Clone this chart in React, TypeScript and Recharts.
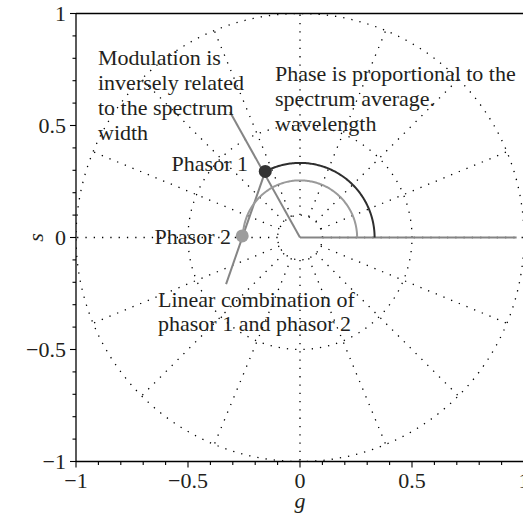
import React from 'react';
import { ComposedChart, Scatter, XAxis, YAxis, ReferenceLine } from 'recharts';

// axis ticks (every 0.1, labels on the halves)
const axisTicks = [-1, -0.9, -0.8, -0.7, -0.6, -0.5, -0.4, -0.3, -0.2, -0.1, 0, 0.1, 0.2, 0.3, 0.4, 0.5, 0.6, 0.7, 0.8, 0.9, 1];
const majorTicks = [-1, -0.5, 0, 0.5, 1];

// dotted polar grid
const gridRadii = [0.1, 0.5, 1];
const spokeAngles = [0, 22.5, 45, 67.5, 90, 112.5, 135, 157.5, 180, 202.5, 225, 247.5, 270, 292.5, 315, 337.5];
const spokeInner = 0.1;

// phasors and construction lines (g, s)
const phasor1 = [{ x: -0.155, y: 0.295 }];
const phasor2 = [{ x: -0.258, y: 0.007 }];
const modulationLine = [{ x: 0, y: 0 }, { x: -0.3125, y: 0.56 }];
const combinationLine = [{ x: -0.33, y: -0.208 }, { x: -0.155, y: 0.295 }];
const phaseLine = [{ x: 0, y: 0 }, { x: 0.967, y: 0 }];
const phase1Arc = { r: 0.333, from: 0, to: 117.7 };
const phase2Arc = { r: 0.255, from: 0, to: 178.4 };

const modulationText = ['Modulation is', 'inversely related', 'to the spectrum', 'width'];
const phaseText = ['Phase is proportional to the', 'spectrum average.', 'wavelength'];
const combinationText = ['Linear combination of', 'phasor 1 and phasor 2'];

const FONT = '"Liberation Serif", "Times New Roman", serif';
const TXT = '#231f20';

const arcPoints = (r: number, from: number, to: number) => {
  const n = Math.max(8, Math.round(Math.abs(to - from)));
  const pts = [];
  for (let i = 0; i <= n; i++) {
    const a = ((from + ((to - from) * i) / n) * Math.PI) / 180;
    pts.push({ x: r * Math.cos(a), y: r * Math.sin(a) });
  }
  return pts;
};

const spokePoints = (deg: number) => {
  const a = (deg * Math.PI) / 180;
  return [
    { x: spokeInner * Math.cos(a), y: spokeInner * Math.sin(a) },
    { x: Math.cos(a), y: Math.sin(a) },
  ];
};

const isMajor = (v: number) => majorTicks.some((m) => Math.abs(m - v) < 1e-6);
const fmt = (v: number) => (v < 0 ? '\u2212' + Math.abs(v) : String(v));

const XTick = (props: any) => {
  const { x, y, payload } = props;
  const major = isMajor(payload.value);
  return (
    <g>
      <line x1={x} y1={y} x2={x} y2={y + (major ? 6 : 3.5)} stroke="#000" strokeWidth={1.1} />
      {major && (
        <text x={x} y={y + 26} textAnchor="middle" fontFamily={FONT} fontSize={22} fill={TXT}>
          {fmt(payload.value)}
        </text>
      )}
    </g>
  );
};

const YTick = (props: any) => {
  const { x, y, payload } = props;
  const major = isMajor(payload.value);
  return (
    <g>
      <line x1={x} y1={y} x2={x - (major ? 6 : 3.5)} y2={y} stroke="#000" strokeWidth={1.1} />
      {major && (
        <text x={x - 10} y={y} dy="0.35em" textAnchor="end" fontFamily={FONT} fontSize={22} fill={TXT}>
          {fmt(payload.value)}
        </text>
      )}
    </g>
  );
};

const noShape = () => <g />;
const dotted = { stroke: '#000', strokeWidth: 1.3, strokeDasharray: '1.3 7' };

const Dot = (color: string) => (p: any) => <circle cx={p.cx} cy={p.cy} r={6.5} fill={color} />;

const PhasorPlot = () => {
  return (
    <div style={{ position: 'absolute', left: 0, top: 0, width: 523, height: 516, background: '#fff' }}>
      <ComposedChart width={523} height={516} margin={{ top: 13.5, right: -1, bottom: 14.5, left: 16 }}>
        <XAxis
          type="number"
          dataKey="x"
          domain={[-1, 1]}
          ticks={axisTicks}
          interval={0}
          tickSize={0}
          tickMargin={0}
          tick={XTick}
          tickLine={false}
          height={40}
          axisLine={{ stroke: '#000', strokeWidth: 1.3 }}
          allowDataOverflow
        />
        <YAxis
          type="number"
          dataKey="y"
          domain={[-1, 1]}
          ticks={axisTicks}
          interval={0}
          tickSize={0}
          tickMargin={0}
          tick={YTick}
          tickLine={false}
          width={60}
          axisLine={{ stroke: '#000', strokeWidth: 1.3 }}
          allowDataOverflow
        />
        <ReferenceLine y={1} stroke="#000" strokeWidth={1.3} />

        {gridRadii.map((r) => (
          <Scatter key={'c' + r} data={arcPoints(r, 0, 360)} line={dotted} lineType="joint" shape={noShape} isAnimationActive={false} />
        ))}
        {spokeAngles.map((a) => (
          <Scatter key={'s' + a} data={spokePoints(a)} line={dotted} lineType="joint" shape={noShape} isAnimationActive={false} />
        ))}

        <Scatter data={phaseLine} line={{ stroke: '#858585', strokeWidth: 2 }} lineType="joint" shape={noShape} isAnimationActive={false} />
        <Scatter data={modulationLine} line={{ stroke: '#858585', strokeWidth: 2 }} lineType="joint" shape={noShape} isAnimationActive={false} />
        <Scatter data={combinationLine} line={{ stroke: '#858585', strokeWidth: 2 }} lineType="joint" shape={noShape} isAnimationActive={false} />
        <Scatter
          data={arcPoints(phase2Arc.r, phase2Arc.from, phase2Arc.to)}
          line={{ stroke: '#9a9a9a', strokeWidth: 2 }}
          lineType="joint"
          shape={noShape}
          isAnimationActive={false}
        />
        <Scatter
          data={arcPoints(phase1Arc.r, phase1Arc.from, phase1Arc.to)}
          line={{ stroke: '#2e2e2e', strokeWidth: 2 }}
          lineType="joint"
          shape={noShape}
          isAnimationActive={false}
        />
        <Scatter data={phasor2} shape={Dot('#9d9d9d')} isAnimationActive={false} />
        <Scatter data={phasor1} shape={Dot('#333333')} isAnimationActive={false} />
      </ComposedChart>

      <svg width={523} height={516} style={{ position: 'absolute', left: 0, top: 0, pointerEvents: 'none' }}>
        <g fontFamily={FONT} fontSize={22} fill={TXT}>
          {modulationText.map((t, i) => (
            <text key={t} x={98} y={65 + i * 25}>{t}</text>
          ))}
          {phaseText.map((t, i) => (
            <text key={t} x={275} y={81 + i * 25}>{t}</text>
          ))}
          {combinationText.map((t, i) => (
            <text key={t} x={158} y={307 + i * 24}>{t}</text>
          ))}
          <text x={248} y={171} textAnchor="end">Phasor 1</text>
          <text x={231} y={244} textAnchor="end">Phasor 2</text>
          <text x={300} y={508} textAnchor="middle" fontStyle="italic">g</text>
          <text x={36} y={237.5} textAnchor="middle" dy="0.3em" fontStyle="italic" transform="rotate(-90 36 237.5)">s</text>
        </g>
      </svg>
    </div>
  );
};

export default function App() {
  return <PhasorPlot />;
}
